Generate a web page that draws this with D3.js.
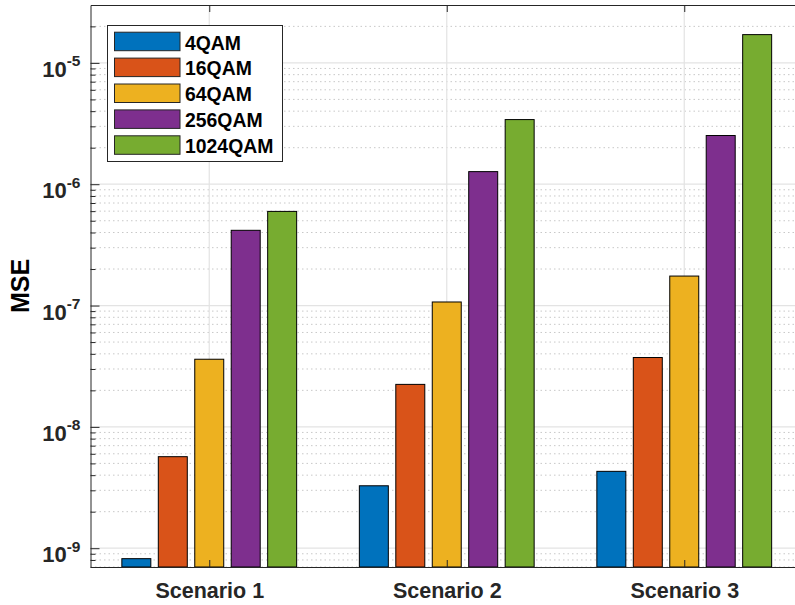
<!DOCTYPE html>
<html>
<head>
<meta charset="utf-8">
<script src="https://cdn.jsdelivr.net/npm/d3@7"></script>
<style>
  html, body { margin: 0; padding: 0; background: #fff; }
  svg { display: block; font-family: "Liberation Sans", Arial, Helvetica, sans-serif; font-weight: bold; }
</style>
</head>
<body>
<svg id="chart" width="795" height="605"></svg>
<script>
// ---- data ----
const categories = ["Scenario 1", "Scenario 2", "Scenario 3"];
const seriesNames = ["4QAM", "16QAM", "64QAM", "256QAM", "1024QAM"];
const mse4QAM    = [8.2e-10, 3.27e-9, 4.30e-9];
const mse16QAM   = [5.68e-9, 2.24e-8, 3.73e-8];
const mse64QAM   = [3.61e-8, 1.07e-7, 1.75e-7];
const mse256QAM  = [4.17e-7, 1.27e-6, 2.52e-6];
const mse1024QAM = [5.97e-7, 3.41e-6, 1.71e-5];
const seriesValues = [mse4QAM, mse16QAM, mse64QAM, mse256QAM, mse1024QAM];
const seriesColors = ["#0072BD", "#D95319", "#EDB120", "#7E2F8E", "#77AC30"];
const yTickExponents = [-9, -8, -7, -6, -5];
const yLabel = "MSE";

// ---- layout ----
const svg = d3.select("#chart");
const L = 90.5, R = 803, T = 5, B = 567;
const axisColor = "#262626";

svg.append("rect").attr("width", 795).attr("height", 605).attr("fill", "#fff");

const x = d3.scaleLinear().domain([0.5, 3.5]).range([L, R]);
const y = d3.scaleLog().domain([7e-10, 3e-5]).range([B, T]);
const groupW = (x(2) - x(1)) * 0.736;
const inner = d3.scaleBand().domain(seriesNames).range([-groupW / 2, groupW / 2]).paddingInner(0.205).paddingOuter(0);

svg.append("rect").attr("x", L).attr("y", T).attr("width", R - L).attr("height", B - T).attr("fill", "#fff");

const minorVals = [];
for (let e = -10; e <= -5; e++) {
  for (let m = 2; m <= 9; m++) {
    const v = m * Math.pow(10, e);
    if (v >= 7e-10 && v <= 3e-5) minorVals.push(v);
  }
}
const majorVals = yTickExponents.map(e => Math.pow(10, e));

const grid = svg.append("g");
grid.selectAll("line.minor").data(minorVals).enter().append("line")
  .attr("x1", L).attr("x2", R).attr("y1", d => y(d)).attr("y2", d => y(d))
  .attr("stroke", "#c8c8c8").attr("stroke-width", 1).attr("stroke-dasharray", "1.5,3");
grid.selectAll("line.major").data(majorVals).enter().append("line")
  .attr("x1", L).attr("x2", R).attr("y1", d => y(d)).attr("y2", d => y(d))
  .attr("stroke", "#e3e3e3").attr("stroke-width", 1.2);
grid.selectAll("line.vx").data([1, 2, 3]).enter().append("line")
  .attr("x1", d => x(d)).attr("x2", d => x(d)).attr("y1", T).attr("y2", B)
  .attr("stroke", "#e3e3e3").attr("stroke-width", 1.2);

seriesNames.forEach((name, si) => {
  svg.append("g").selectAll("rect").data(seriesValues[si]).enter().append("rect")
    .attr("x", (d, i) => x(i + 1) + inner(name))
    .attr("width", inner.bandwidth())
    .attr("y", d => y(d))
    .attr("height", d => B - y(d))
    .attr("fill", seriesColors[si])
    .attr("stroke", "#000").attr("stroke-width", 1);
});

const gx = svg.append("g").attr("transform", `translate(0,${B})`)
  .call(d3.axisBottom(x).tickValues([1, 2, 3]).tickSize(-7).tickSizeOuter(0).tickFormat(i => categories[i - 1]));
gx.select(".domain").attr("stroke", axisColor);
gx.selectAll(".tick line").attr("stroke", axisColor);
gx.selectAll(".tick text").attr("y", 31).attr("dy", 0).attr("fill", axisColor)
  .style("font-size", "21.5px").style("font-family", "Liberation Sans, Arial, sans-serif").style("font-weight", "bold");

const gxt = svg.append("g").attr("transform", `translate(0,${T})`)
  .call(d3.axisTop(x).tickValues([1, 2, 3]).tickSize(-7).tickSizeOuter(0).tickFormat(() => ""));
gxt.select(".domain").attr("stroke", axisColor);
gxt.selectAll(".tick line").attr("stroke", axisColor);

const gy = svg.append("g").attr("transform", `translate(${L},0)`)
  .call(d3.axisLeft(y).tickValues(majorVals).tickSize(-9).tickSizeOuter(0).tickFormat(() => ""));
gy.select(".domain").attr("stroke", axisColor);
gy.selectAll(".tick line").attr("stroke", axisColor);
const gym = svg.append("g").attr("transform", `translate(${L},0)`)
  .call(d3.axisLeft(y).tickValues(minorVals).tickSize(-5).tickSizeOuter(0).tickFormat(() => ""));
gym.select(".domain").remove();
gym.selectAll(".tick line").attr("stroke", axisColor);

const yl = svg.append("g");
yTickExponents.forEach(e => {
  const t = yl.append("text")
    .attr("x", L - 10).attr("y", y(Math.pow(10, e)) + 14)
    .attr("text-anchor", "end").attr("fill", axisColor)
    .style("font-size", "22px");
  t.append("tspan").text("10");
  t.append("tspan").attr("dy", -10.5).style("font-size", "15.5px").text(String(e));
});

svg.append("text")
  .attr("transform", `translate(${28.5},${(T + B) / 2}) rotate(-90)`)
  .attr("text-anchor", "middle").attr("fill", "#000")
  .style("font-size", "25px").text(yLabel);

const lg = svg.append("g");
lg.append("rect").attr("x", 107.5).attr("y", 25.5).attr("width", 175).attr("height", 136)
  .attr("fill", "#fff").attr("stroke", axisColor).attr("stroke-width", 1);
seriesNames.forEach((name, i) => {
  const yy = 32.2 + i * 25.9;
  lg.append("rect").attr("x", 114.5).attr("y", yy).attr("width", 65.5).attr("height", 18.5)
    .attr("fill", seriesColors[i]).attr("stroke", axisColor).attr("stroke-width", 1);
  lg.append("text").attr("x", 185).attr("y", yy + 17.3).attr("fill", "#000")
    .style("font-size", "19.4px").text(name);
});
</script>
</body>
</html>
